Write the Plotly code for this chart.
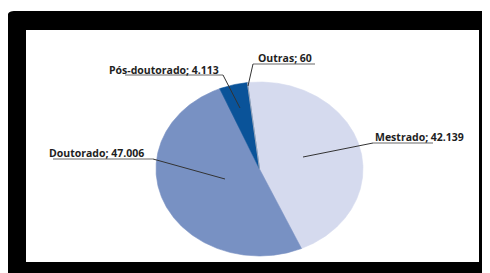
import numpy as np
import plotly.graph_objects as go

# ---- data ----
categories = ["Mestrado", "Doutorado", "Pós-doutorado", "Outras"]
values = [42139, 47006, 4113, 60]
value_labels = ["42.139", "47.006", "4.113", "60"]
colors = ["#D5DAEE", "#7891C3", "#0A5399", "#A8AEBD"]

# ---- layout constants (pixel space; page body adds an 8px offset) ----
OFF = 8
W, H = 490, 273
cx, cy, rx, ry = 259.5 - OFF, 169.0 - OFF, 103.5, 87.0
start_deg = -6.5  # clockwise from 12 o'clock

fig = go.Figure()

total = float(sum(values))
a0 = start_deg
for cat, v, col in zip(categories, values, colors):
    span = 360.0 * v / total
    th = np.radians(np.linspace(a0, a0 + span, max(4, int(span * 2))))
    xs = np.concatenate([[cx], cx + rx * np.sin(th), [cx]])
    ys = np.concatenate([[cy], cy - ry * np.cos(th), [cy]])
    fig.add_trace(go.Scatter(x=xs, y=ys, mode="lines", fill="toself",
                             fillcolor=col, line=dict(color=col, width=0.6),
                             hoverinfo="skip", showlegend=False, name=cat))
    a0 += span

# label placement in screen px: (text x-left, text y-center, underline x0, x1, underline y, leader end x, y)
label_pos = {
    "Mestrado":      (373, 137, 373, 433, 143, 303, 157),
    "Doutorado":     (47, 153, 53, 153, 159, 225, 179),
    "Pós-doutorado": (107, 70, 125, 223, 75, 240, 108),
    "Outras":        (256, 58, 253, 315, 64, 248, 86),
}
shapes = [
    dict(type="path", xref="x", yref="y", layer="below",
         path=f"M {7-OFF} {H} L {7-OFF} {18-OFF} Q {7-OFF} {11-OFF} {14-OFF} {11-OFF} L {W} {11-OFF} L {W} {H} Z",
         fillcolor="black", line=dict(width=0)),
    dict(type="rect", xref="x", yref="y", layer="below",
         x0=26 - OFF, y0=30 - OFF, x1=479 - OFF, y1=262 - OFF, fillcolor="white", line=dict(width=0)),
]
annotations = []
for cat, vl in zip(categories, value_labels):
    tx, ty, ux0, ux1, uy, lx, ly = label_pos[cat]
    annotations.append(dict(x=tx - OFF, y=ty - OFF, xref="x", yref="y", text=f"<b>{cat}; {vl}</b>",
                            showarrow=False, xanchor="left", yanchor="middle",
                            font=dict(family="Open Sans", size=10.5, color="#1E1E1E")))
    shapes.append(dict(type="line", xref="x", yref="y", x0=ux0 - OFF, x1=ux1 - OFF,
                       y0=uy - OFF, y1=uy - OFF, line=dict(color="#9A9A9A", width=1.5)))
    sx = ux0 if abs(ux0 - 259.5) < abs(ux1 - 259.5) else ux1
    shapes.append(dict(type="line", xref="x", yref="y", x0=sx - OFF, y0=uy - OFF,
                       x1=lx - OFF, y1=ly - OFF, line=dict(color="#333333", width=1)))

fig.update_layout(
    width=W, height=H, margin=dict(l=0, r=0, t=0, b=0),
    paper_bgcolor="white", plot_bgcolor="rgba(0,0,0,0)",
    xaxis=dict(range=[0, W], visible=False, fixedrange=True, domain=[0, 1]),
    yaxis=dict(range=[H, 0], visible=False, fixedrange=True, domain=[0, 1]),
    shapes=shapes, annotations=annotations, showlegend=False,
)
fig.write_html("out.html")
